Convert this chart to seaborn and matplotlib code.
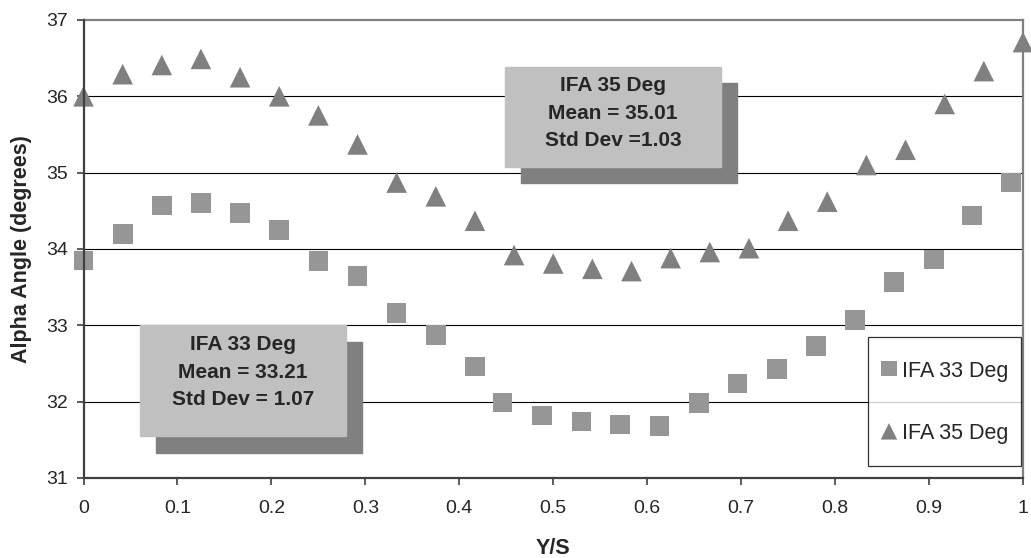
# import the libraries
import matplotlib
matplotlib.use("Agg")
import pandas as pd
import seaborn as sns
import matplotlib.pyplot as plt
from matplotlib.patches import Rectangle

# data
ys_33 = [0.0, 0.0417, 0.0833, 0.125, 0.1667, 0.2083, 0.25, 0.2917, 0.3333, 0.375,
         0.4167, 0.446, 0.488, 0.530, 0.571, 0.613, 0.655, 0.696, 0.738, 0.780,
         0.821, 0.863, 0.905, 0.946, 0.987]
alpha_33 = [33.85, 34.20, 34.57, 34.60, 34.47, 34.25, 33.84, 33.65, 33.16, 32.87,
            32.46, 31.99, 31.82, 31.74, 31.70, 31.68, 31.98, 32.24, 32.43, 32.73,
            33.07, 33.57, 33.86, 34.44, 34.87]

ys_35 = [i / 24 for i in range(25)]
alpha_35 = [36.00, 36.29, 36.41, 36.49, 36.25, 36.00, 35.75, 35.37, 34.87, 34.69,
            34.37, 33.92, 33.81, 33.74, 33.71, 33.88, 33.96, 34.01, 34.37, 34.62,
            35.10, 35.30, 35.90, 36.33, 36.71]

labels = ["IFA 33 Deg", "IFA 35 Deg"]
box_texts = ["IFA 33 Deg\nMean = 33.21\nStd Dev = 1.07",
             "IFA 35 Deg\nMean = 35.01\nStd Dev =1.03"]

df33 = pd.DataFrame({"Y/S": ys_33, "alpha": alpha_33})
df35 = pd.DataFrame({"Y/S": ys_35, "alpha": alpha_35})

# set the theme
sns.set_theme(style="white")
plt.rcParams["font.family"] = ["Liberation Sans", "DejaVu Sans"]

fig = plt.figure(figsize=(10.31, 5.58), dpi=100)
ax = fig.add_axes([0.081, 0.1434, 0.9112, 0.8208])

# scatter points
sns.scatterplot(data=df33, x="Y/S", y="alpha", marker="s", s=200, color="#969696",
                edgecolor="none", label=labels[0], ax=ax, zorder=4, clip_on=False)
sns.scatterplot(data=df35, x="Y/S", y="alpha", marker="^", s=220, color="#808080",
                edgecolor="none", label=labels[1], ax=ax, zorder=4, clip_on=False)

# axes limits and ticks
ax.set_xlim(0, 1)
ax.set_ylim(31, 37)
ax.set_xticks([0, 0.1, 0.2, 0.3, 0.4, 0.5, 0.6, 0.7, 0.8, 0.9, 1])
ax.set_xticklabels(["0", "0.1", "0.2", "0.3", "0.4", "0.5", "0.6", "0.7", "0.8", "0.9", "1"])
ax.set_yticks([31, 32, 33, 34, 35, 36, 37])
ax.tick_params(axis="both", direction="out", length=5, width=1.2, color="#404040",
               labelsize=14, bottom=True, left=True)
ax.tick_params(axis="x", pad=11)
ax.tick_params(axis="y", pad=6)

# grid lines
for yv in [32, 33, 34, 35, 36]:
    ax.axhline(yv, color="black", lw=0.8, zorder=1)

# spines
for side in ["left", "bottom"]:
    ax.spines[side].set_color("#404040")
    ax.spines[side].set_linewidth(1.6)
for side in ["top", "right"]:
    ax.spines[side].set_color("#808080")
    ax.spines[side].set_linewidth(1.6)
ax.spines["left"].set_zorder(5)
ax.spines["bottom"].set_zorder(5)

# labels
ax.set_xlabel("Y/S", fontsize=15.5, fontweight="bold", labelpad=15)
ax.set_ylabel("Alpha Angle (degrees)", fontsize=15.5, fontweight="bold", labelpad=10)

# annotation boxes with shadow
ax.add_patch(Rectangle((0.0772, 31.33), 0.2189, 1.45, color="#808080", zorder=2))
ax.add_patch(Rectangle((0.0601, 31.545), 0.2190, 1.455, color="#c0c0c0", zorder=3))
ax.text(0.1694, 32.385, box_texts[0], ha="center", va="center", fontsize=15,
        fontweight="bold", linespacing=1.58, zorder=4)

ax.add_patch(Rectangle((0.4657, 34.87), 0.2299, 1.305, color="#808080", zorder=2))
ax.add_patch(Rectangle((0.4486, 35.08), 0.2300, 1.305, color="#c0c0c0", zorder=3))
ax.text(0.5636, 35.78, box_texts[1], ha="center", va="center", fontsize=15,
        fontweight="bold", linespacing=1.58, zorder=4)

# legend
leg = ax.legend(loc="upper left", bbox_to_anchor=(0.8354, 0.3085), fontsize=15.5,
                frameon=True, fancybox=False, shadow=False, markerscale=0.8,
                scatteryoffsets=[0.19], labelspacing=0.98, handlelength=0.76,
                handleheight=2.6, handletextpad=0.23, borderpad=0.58,
                borderaxespad=0)
leg.get_frame().set_edgecolor("black")
leg.get_frame().set_linewidth(0.9)
leg.set_zorder(6)

# save the figure
plt.savefig("out.png", dpi=100)
